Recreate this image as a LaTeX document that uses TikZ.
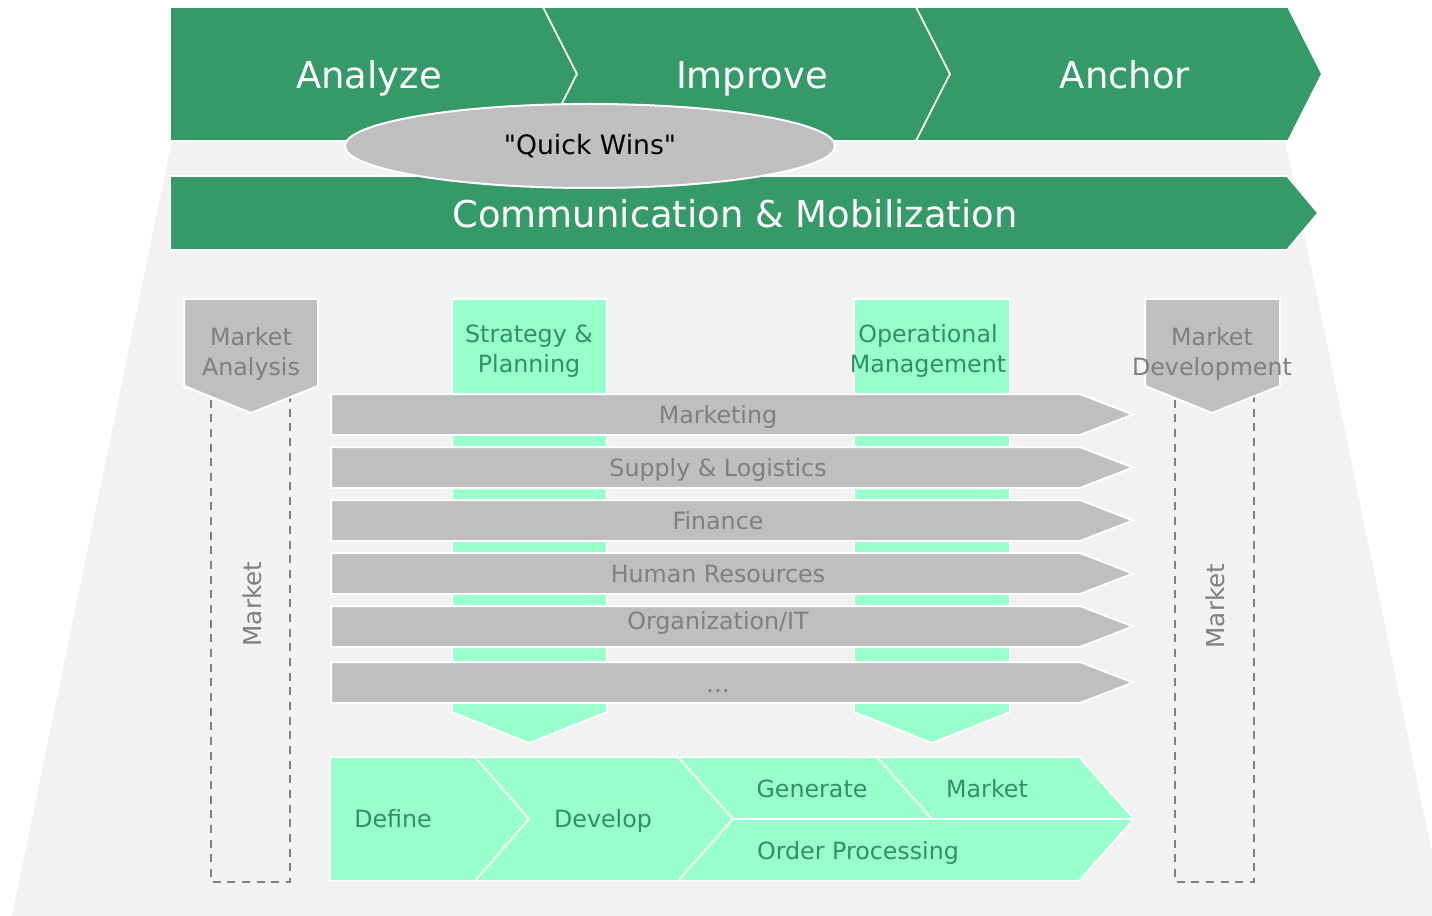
\documentclass[tikz,border=0pt]{standalone}
\usepackage{fontspec}
\setmainfont{DejaVu Sans}[Ligatures=TeXOff]
\usetikzlibrary{positioning,shapes.geometric}
\definecolor{bannergreen}{HTML}{359A68}
\definecolor{stepgreen}{HTML}{2F9060}
\definecolor{mintgreen}{HTML}{99FFCC}
\definecolor{bargray}{HTML}{BFBFBF}
\definecolor{backgray}{HTML}{F2F2F2}
\definecolor{labelgray}{HTML}{7F7F7F}
\definecolor{dashgray}{HTML}{808080}

\begin{document}
\begin{tikzpicture}[x=0.75pt,y=-0.75pt,node distance=39.75pt,on grid]
\tikzset{banner/.style={fill=bannergreen,draw=white,line width=1.2pt}}
\tikzset{mint/.style={fill=mintgreen,draw=white,line width=1.2pt}}
\tikzset{graybar/.style={fill=bargray,draw=white,line width=1.5pt}}
\tikzset{phasetext/.style={text=white,font=\fontsize{27.7}{33}\selectfont,text height=20.2pt,text depth=0pt}}
\tikzset{bartext/.style={text=labelgray,font=\fontsize{17.8}{22.5}\selectfont,align=center}}
\tikzset{barlabel/.style={bartext,text height=13pt,text depth=0pt}}
\tikzset{steptext/.style={text=stepgreen,font=\fontsize{17.8}{22.5}\selectfont,align=center}}
\tikzset{steplabel/.style={steptext,text height=13pt,text depth=0pt}}
\tikzset{marketbox/.style={draw=dashgray,dash pattern=on 6pt off 5pt,line width=2pt}}
\useasboundingbox (0,0) rectangle (1432,916);
% background funnel
\fill[backgray] (172,140) -- (1285,140) -- (1445,916) -- (12,916) -- cycle;
% phases
\path[banner] (170,7) -- (543,7) -- (577,74) -- (543,141) -- (170,141) -- cycle;
\path[banner] (543,7) -- (916,7) -- (950,74) -- (916,141) -- (543,141) -- (577,74) -- cycle;
\path[banner] (916,7) -- (1288,7) -- (1322,74) -- (1288,141) -- (916,141) -- (950,74) -- cycle;
\node[phasetext] (analyze) at (369,75.5) {Analyze};
\node[phasetext] (improve) at (752,75.5) {Improve};
\node[phasetext] (anchor)  at (1125,75.5) {Anchor};
% communication
\path[banner] (170,176) -- (1287,176) -- (1318,213) -- (1287,250) -- (170,250) -- cycle;
\node[phasetext] (comm) at (735,214.5) {Communication \& Mobilization};
\node[ellipse,fill=bargray,draw=white,line width=1.5pt,minimum width=367.5pt,minimum height=63pt,
      font=\fontsize{20}{24}\selectfont] (quickwins) at (590,146) {"Quick Wins"};
% market boxes
\draw[marketbox] (211,385) rectangle (290,882);
\draw[marketbox] (1175,385) rectangle (1254,882);
\path[graybar] (184,299) -- (318,299) -- (318,386) -- (251,413) -- (184,386) -- cycle;
\path[graybar] (1145,299) -- (1280,299) -- (1280,386) -- (1212,413) -- (1145,386) -- cycle;
\node[bartext] (manalysis) at (251,354) {Market\\Analysis};
\node[bartext] (mdevelop) at (1212,354) {Market\\Development};
\node[bartext,rotate=90,font=\fontsize{18.5}{22}\selectfont] (marketL) at (252,604) {Market};
\node[bartext,rotate=90,font=\fontsize{18.5}{22}\selectfont] (marketR) at (1215,606) {Market};
% functions
\path[mint] (452,299) -- (607,299) -- (607,712) -- (529,743) -- (452,712) -- cycle;
\path[mint] (854,299) -- (1010,299) -- (1010,712) -- (932,743) -- (854,712) -- cycle;
\node[steptext] (strategy) at (529,351) {Strategy \&\\Planning};
\node[steptext] (operational) at (928,351) {Operational\\Management};
\foreach \y in {394,447,500,553,606,662}
  \path[graybar] (331,\y) -- (1080,\y) -- (1133,\y+20.5) -- (1080,\y+41) -- (331,\y+41) -- cycle;
\node[barlabel] (marketing) at (718,414.4) {Marketing};
\node[barlabel] (supply) [below=of marketing] {Supply \& Logistics};
\node[barlabel] (finance) [below=of supply] {Finance};
\node[barlabel] (hr) [below=of finance] {Human Resources};
\node[barlabel] (orgit) [below=35.25pt of hr] {Organization/IT};
\node[barlabel] (more) [below=47.25pt of orgit] {…};
% order process
\path[mint] (330,757) -- (475,757) -- (529,819) -- (475,881) -- (330,881) -- cycle;
\path[mint] (475,757) -- (678,757) -- (733,819) -- (678,881) -- (475,881) -- (529,819) -- cycle;
\path[mint] (678,757) -- (877,757) -- (932,819) -- (733,819) -- cycle;
\path[mint] (877,757) -- (1079,757) -- (1134,819) -- (932,819) -- cycle;
\path[mint] (733,819) -- (1134,819) -- (1079,881) -- (678,881) -- cycle;
\node[steplabel] (define) at (393,818.4) {Define};
\node[steplabel] (develop) at (603,818.4) {Develop};
\node[steplabel] (generate) at (812,788.4) {Generate};
\node[steplabel] (market) at (987,788.4) {Market};
\node[steplabel] (order) at (858,850.4) {Order Processing};
\end{tikzpicture}
\end{document}
